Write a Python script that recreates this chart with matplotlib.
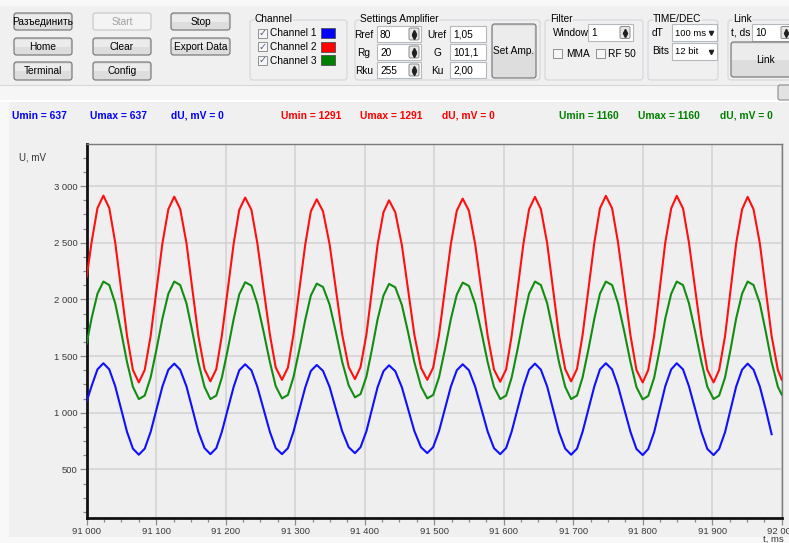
import matplotlib
matplotlib.use("Agg")
import matplotlib.pyplot as plt
from matplotlib.patches import Rectangle, FancyBboxPatch
from matplotlib.ticker import MultipleLocator, FuncFormatter

W, H = 789, 543
GUI_FONT = "Liberation Sans"

# Sample times, ms after 91 000
T_START = 91000
T_OFFSET = [
    0, 7, 15.5, 24, 32.5, 41, 49.5, 58, 66.5, 75, 83.5, 92, 100.5, 109, 117.5, 126,
    134.5, 143.5, 152, 160.5, 169.5, 178, 186.5, 194.5, 203, 211.5, 219.5, 228,
    237, 245.5, 254.5, 263.5, 272, 281, 289.5, 297.5, 306, 314.5, 322.5, 331,
    340, 349.5, 358.5, 367.5, 377, 386, 394, 402.5, 410.5, 418.5, 427, 435,
    444, 453.5, 462.5, 471.5, 481, 490, 498.5, 507, 515.5, 524, 532.5, 541,
    550, 559, 568, 577, 586, 595, 603.5, 611.5, 620, 628.5, 636.5, 645,
    653.5, 662.5, 671, 679.5, 688.5, 697, 705.5, 713.5, 722, 730.5, 738.5, 747,
    756, 764.5, 773.5, 782.5, 791, 800, 808, 816.5, 824.5, 832.5, 841, 849,
    858, 866.5, 875.5, 884.5, 893, 902, 910, 918.5, 926.5, 934.5, 943, 951,
    959.5, 968.5, 977, 985.5, 994.5, 1000,
]

# Channel values, mV
CH1_BLUE = [
    1100, 1234, 1382, 1436, 1382, 1234, 1033, 831, 683, 629,
    683, 830, 1031, 1232, 1379, 1433, 1379, 1233, 1034, 834, 688, 634,
    687, 832, 1031, 1229, 1374, 1427, 1374, 1229, 1031, 832, 687, 634,
    687, 831, 1028, 1224, 1368, 1421, 1369, 1227, 1032, 838, 695, 643,
    695, 837, 1031, 1224, 1366, 1418, 1366, 1224, 1031, 837, 695, 643,
    696, 839, 1035, 1231, 1374, 1427, 1374, 1229, 1031, 832, 687, 634,
    688, 834, 1034, 1233, 1379, 1433, 1379, 1232, 1031, 830, 683, 629,
    683, 831, 1033, 1234, 1382, 1436, 1382, 1234, 1031, 829, 680, 626,
    680, 829, 1031, 1234, 1382, 1436, 1382, 1234, 1031, 829, 680, 626,
    680, 828, 1030, 1231, 1379, 1433, 1379, 1231, 1030, 810,
]
CH2_RED = [
    2200, 2503, 2805, 2915, 2805, 2503, 2091, 1679, 1377, 1267,
    1377, 1677, 2087, 2496, 2796, 2906, 2797, 2499, 2091, 1684, 1385, 1276,
    1385, 1682, 2087, 2493, 2789, 2898, 2790, 2496, 2094, 1692, 1398, 1290,
    1397, 1688, 2087, 2485, 2776, 2883, 2777, 2486, 2090, 1693, 1402, 1296,
    1402, 1691, 2085, 2480, 2768, 2874, 2768, 2478, 2082, 1686, 1396, 1290,
    1397, 1690, 2090, 2489, 2782, 2889, 2781, 2485, 2081, 1677, 1381, 1273,
    1382, 1681, 2089, 2496, 2795, 2904, 2795, 2497, 2090, 1683, 1385, 1276,
    1386, 1685, 2095, 2504, 2803, 2913, 2803, 2502, 2090, 1679, 1377, 1267,
    1377, 1679, 2090, 2502, 2803, 2913, 2803, 2502, 2090, 1679, 1377, 1267,
    1377, 1676, 2086, 2495, 2794, 2904, 2794, 2495, 2086, 1676, 1377, 1291,
]
CH3_GREEN = [
    1610, 1832, 2050, 2157, 2126, 1966, 1716, 1447, 1228, 1120,
    1151, 1311, 1561, 1832, 2050, 2157, 2126, 1966, 1716, 1447, 1228, 1120,
    1151, 1310, 1558, 1827, 2044, 2151, 2121, 1962, 1715, 1449, 1233, 1126,
    1156, 1313, 1557, 1821, 2034, 2139, 2109, 1954, 1712, 1451, 1240, 1135,
    1164, 1319, 1561, 1822, 2033, 2136, 2106, 1950, 1707, 1444, 1231, 1126,
    1156, 1314, 1560, 1827, 2042, 2148, 2118, 1958, 1711, 1444, 1227, 1120,
    1151, 1311, 1561, 1832, 2050, 2157, 2126, 1966, 1716, 1447, 1228, 1120,
    1151, 1311, 1561, 1832, 2050, 2157, 2126, 1965, 1715, 1444, 1226, 1117,
    1148, 1309, 1559, 1831, 2049, 2157, 2126, 1966, 1716, 1447, 1228, 1120,
    1151, 1311, 1561, 1832, 2050, 2157, 2126, 1966, 1716, 1447, 1228, 1160,
]

CHANNEL_NAMES = ["Channel 1", "Channel 2", "Channel 3"]
CHANNEL_COLORS = ["#0000ff", "#ff0000", "#008000"]
LINE_COLORS = ["#1010ff", "#ff1010", "#138c13"]
U_MIN = [637, 1291, 1160]
U_MAX = [637, 1291, 1160]
D_U = [0, 0, 0]
STAT_X = [(12, 90, 171), (281, 360, 442), (559, 638, 720)]

AMP_LEFT = [("Rref", "80"), ("Rg", "20"), ("Rku", "255")]
AMP_RIGHT = [("Uref", "1,05"), ("G", "101,1"), ("Ku", "2,00")]

Y_MIN, Y_MAX = 68, 3368
X_MIN, X_MAX = 91000, 92000


fig = plt.figure(figsize=(W / 100, H / 100), dpi=100)
fig.patch.set_facecolor("#f0f0f0")

# background axes in pixel units (y down)
g = fig.add_axes([0, 0, 1, 1])
g.set_xlim(0, W)
g.set_ylim(H, 0)
g.axis("off")


def box(x0, y0, x1, y1, fc, ec="none", lw=0.8, r=0.0, z=1):
    if r > 0:
        p = FancyBboxPatch((x0, y0), x1 - x0, y1 - y0,
                           boxstyle=f"round,pad=0,rounding_size={r}",
                           fc=fc, ec=ec, lw=lw, zorder=z)
    else:
        p = Rectangle((x0, y0), x1 - x0, y1 - y0, fc=fc, ec=ec, lw=lw, zorder=z)
    g.add_patch(p)


def label(x, y, s, size=7.3, ha="left", color="#000000", weight="normal", z=5, **kw):
    g.text(x, y, s, ha=ha, va="center", fontsize=size, color=color,
           fontweight=weight, family=GUI_FONT, zorder=z, **kw)


def button(x0, y0, x1, y1, text, enabled=True):
    if enabled:
        box(x0, y0, x1, y1, "#dddddd", "#707070", 0.8, 2.5, 2)
        box(x0 + 1.5, y0 + 1.5, x1 - 1.5, (y0 + y1) / 2, "#ececec", z=3)
        label((x0 + x1) / 2, (y0 + y1) / 2 + 0.5, text, ha="center")
    else:
        box(x0, y0, x1, y1, "#f4f4f4", "#c5c5c5", 0.8, 2.5, 2)
        label((x0 + x1) / 2, (y0 + y1) / 2 + 0.5, text, ha="center", color="#a0a0a0")


def group(x0, y0, x1, y1, title):
    box(x0, y0, x1, y1, "none", "#d5d9dd", 0.9, 3, 2)
    label(x0 + 5, y0 - 1, title, bbox=dict(fc="#f0f0f0", ec="none", pad=0.3))


def field(x0, y0, x1, y1, text, size=7.3):
    box(x0, y0, x1, y1, "#ffffff", "#b5b8bd", 0.8, 0, 2)
    label(x0 + 3, (y0 + y1) / 2 + 0.5, text, size=size)


def spinner(x, y):
    box(x, y, x + 10, y + 12, "#e6e6e6", "#8a8a8a", 0.7, 1.5, 4)
    g.plot([x + 5], [y + 4], marker="^", ms=3, color="#202020", zorder=5)
    g.plot([x + 5], [y + 8.5], marker="v", ms=3, color="#202020", zorder=5)


def checkbox(x, y, checked):
    box(x, y, x + 9, y + 9, "#f6f6f6", "#8e8f8f", 0.7, 0, 3)
    if checked:
        g.text(x + 4.5, y + 4.7, "\u2713", ha="center", va="center", fontsize=7,
               color="#4a5d7d", family="DejaVu Sans", zorder=5)


def combo(x0, y0, x1, y1, text):
    field(x0, y0, x1, y1, text, size=6.8)
    g.plot([x1 - 6], [(y0 + y1) / 2 + 0.5], marker="v", ms=3, color="#202020", zorder=5)


# window bands
box(0, 0, W, 6, "#f8f8f8", z=0)
box(0, 85, W, 100, "#f6f6f6", z=0)
g.plot([0, W], [84.5, 84.5], color="#d7d7d7", lw=0.8, zorder=1)
g.plot([0, W], [101, 101], color="#ffffff", lw=1.5, zorder=1)
box(0, 102, 9, H, "#f8f8f8", z=0)
box(0, 537, W, H, "#f8f8f8", z=0)
box(778, 85, 792, 100, "#e2e2e2", "#8a8a8a", 0.8, 2, 2)

# command buttons
button(14, 13, 72, 30, "Разъединить")
button(93, 13, 151, 30, "Start", enabled=False)
button(171, 13, 230, 30, "Stop")
button(14, 38, 72, 55, "Home")
button(93, 38, 151, 55, "Clear")
button(171, 38, 230, 55, "Export Data")
button(14, 62, 72, 80, "Terminal")
button(93, 62, 151, 80, "Config")

# Channel group
group(250, 20, 347, 80, "Channel")
for i, (name, col) in enumerate(zip(CHANNEL_NAMES, CHANNEL_COLORS)):
    cy = 33 + i * 13.5
    checkbox(258, cy - 4.5, True)
    label(270, cy + 0.5, name)
    box(321, cy - 5, 335, cy + 5, col, "#505050", 0.6, 0, 3)

# Settings Amplifier group
group(355, 20, 540, 80, "Settings Amplifier")
for i, (name, val) in enumerate(AMP_LEFT):
    fy = 26 + i * 18
    label(364, fy + 8.5, name, ha="center")
    field(377, fy, 421, fy + 16, val)
    spinner(409, fy + 2)
for i, (name, val) in enumerate(AMP_RIGHT):
    fy = 26 + i * 18
    label(437, fy + 8.5, name, ha="center")
    field(450, fy, 486, fy + 16, val)
button(492, 24, 536, 78, "Set Amp.")

# Filter group
group(545, 20, 643, 80, "Filter")
label(553, 32.5, "Window")
field(588, 24, 633, 41, "1")
spinner(620, 26.5)
checkbox(553, 49, False)
label(566, 54, "MMA")
checkbox(596, 49, False)
label(608, 54, "RF 50")

# TIME/DEC group
group(648, 20, 718, 80, "TIME/DEC")
label(652, 32.5, "dT")
combo(672, 24, 717, 41, "100 ms")
label(652, 51.5, "Bits")
combo(672, 43, 717, 60, "12 bit")

# Link group
group(728, 20, 800, 80, "Link")
label(731, 32.5, "t, ds")
field(752, 24, 795, 41, "10")
spinner(781, 26.5)
button(731, 42, 800, 77, "Link")

# statistics row
for i, col in enumerate(CHANNEL_COLORS):
    xs = STAT_X[i]
    texts = [f"Umin = {U_MIN[i]}", f"Umax = {U_MAX[i]}", f"dU, mV = {D_U[i]}"]
    for x, s in zip(xs, texts):
        label(x, 116, s, size=7.4, color=col, weight="bold")

# plot axes
ax = fig.add_axes([86.7 / W, (H - 518.3) / H, 695 / W, 374 / H])
ax.set_facecolor("#efefef")
ax.set_zorder(10)

t = [T_START + v for v in T_OFFSET]
series = [CH1_BLUE, CH2_RED, CH3_GREEN]
for vals, col in zip(series, LINE_COLORS):
    ax.plot(t[:len(vals)], vals, color=col, lw=1.5, solid_joinstyle="round", zorder=3)

ax.set_xlim(X_MIN, X_MAX)
ax.set_ylim(Y_MIN, Y_MAX)
ax.xaxis.set_major_locator(MultipleLocator(100))
ax.xaxis.set_minor_locator(MultipleLocator(25))
ax.yaxis.set_major_locator(MultipleLocator(500))
ax.yaxis.set_minor_locator(MultipleLocator(125))

fmt = FuncFormatter(lambda v, pos: f"{int(round(v)):,}".replace(",", " "))
ax.xaxis.set_major_formatter(fmt)
ax.yaxis.set_major_formatter(fmt)

ax.grid(True, which="major", color="#d4d4d4", lw=1.2)
ax.set_axisbelow(True)
ax.tick_params(which="major", direction="out", length=5, width=0.9, color="#8c8c8c",
               labelsize=6.8, labelcolor="#3a3a3a", pad=1.5)
ax.tick_params(which="minor", direction="out", length=3, width=0.9, color="#8c8c8c")
for lab in ax.get_xticklabels() + ax.get_yticklabels():
    lab.set_family(GUI_FONT)

for side in ("left", "bottom"):
    ax.spines[side].set_linewidth(2)
    ax.spines[side].set_color("#111111")
for side in ("top", "right"):
    ax.spines[side].set_linewidth(1)
    ax.spines[side].set_color("#7a7a7a")

label(19, 157, "U, mV", size=7, color="#333333")
label(763, 539.5, "t, ms", size=6.8, color="#333333")

fig.savefig("out.png", dpi=100, facecolor=fig.get_facecolor())
